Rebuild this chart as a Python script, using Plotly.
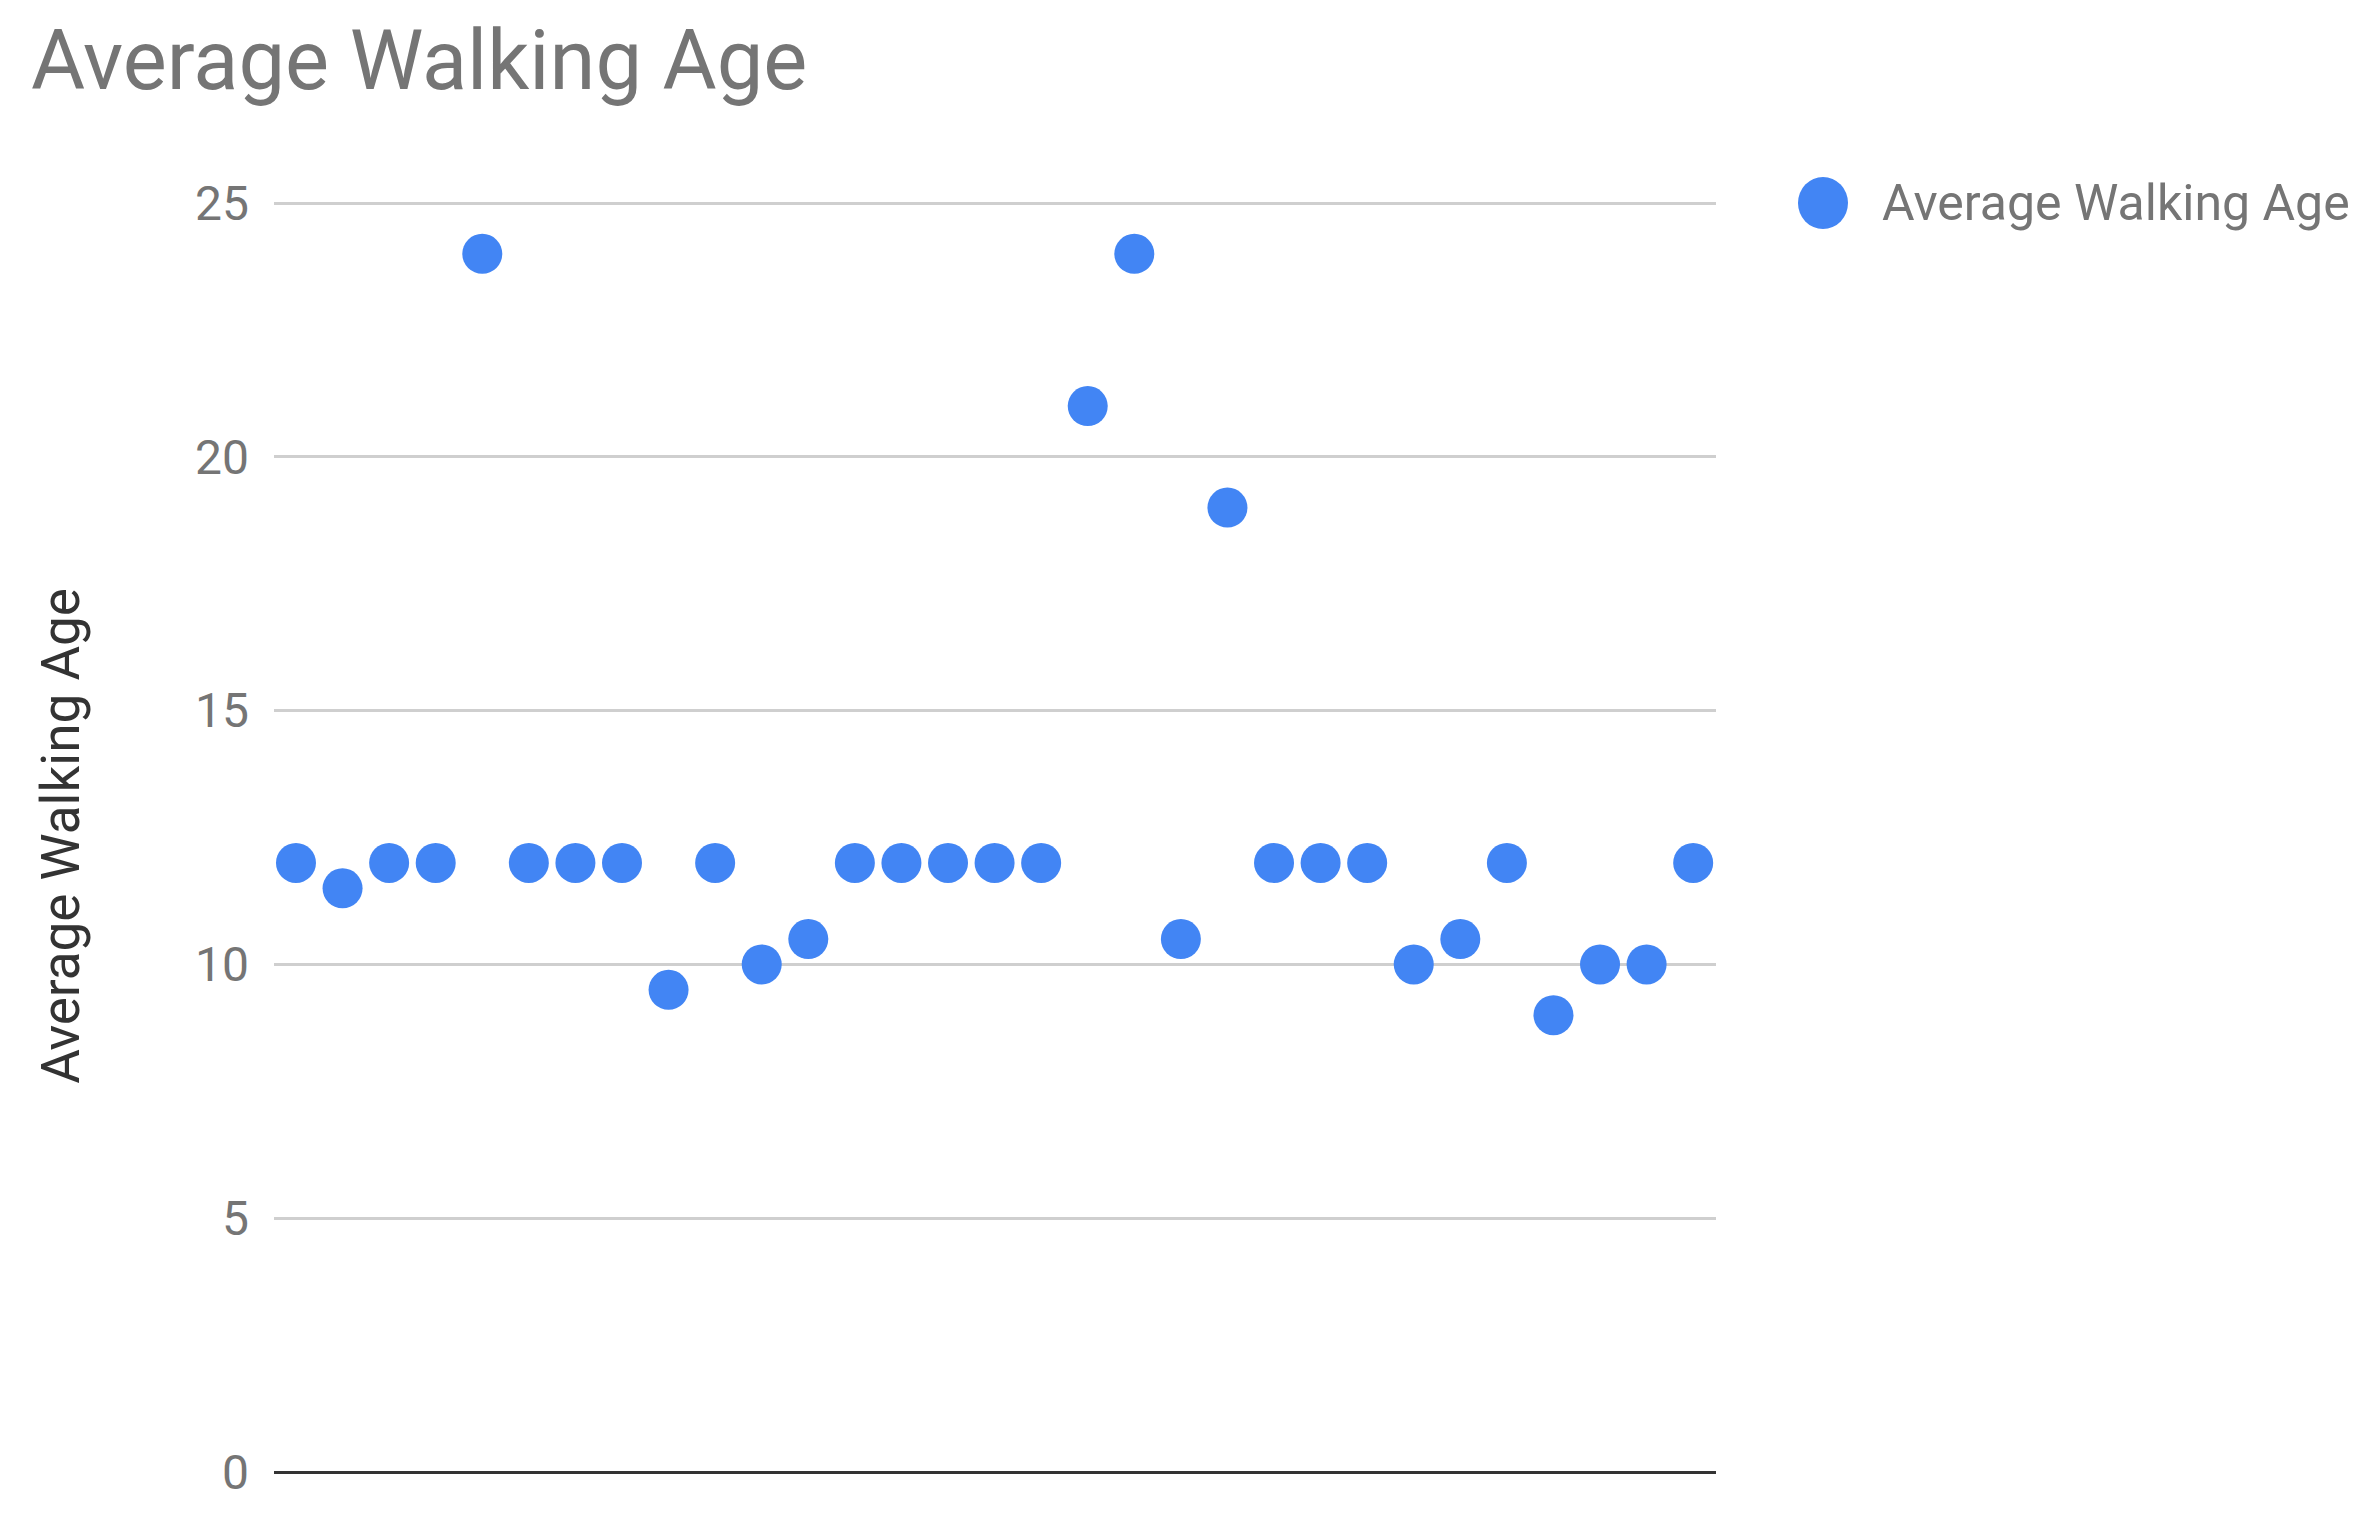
import plotly.graph_objects as go

# Data
child_index = list(range(1, 32))
walking_age = [12, 11.5, 12, 12, 24, 12, 12, 12, 9.5, 12, 10, 10.5, 12, 12, 12,
               12, 12, 21, 24, 10.5, 19, 12, 12, 12, 10, 10.5, 12, 9, 10, 10, 12]
y_ticks = [0, 5, 10, 15, 20, 25]
series_name = "Average Walking Age"
chart_title = "Average Walking Age"

W, H = 2360, 1524
L, R, T, B = 274, 644, 200, 52
pw = W - L - R
ph = H - T - B

BLUE = "#4285F4"
FONT = "Roboto"

fig = go.Figure()
fig.add_trace(go.Scatter(
    x=child_index, y=walking_age, mode="markers", name=series_name,
    marker=dict(color=BLUE, size=40, line=dict(width=0)),
    showlegend=False,
))

# custom legend (large swatch as in reference)
lx = (1823 - L) / pw
ly = (H - B - 203) / ph
fig.add_shape(type="circle", xref="paper", yref="paper",
              xsizemode="pixel", ysizemode="pixel",
              xanchor=lx, yanchor=ly, x0=-25, x1=25, y0=-26, y1=26,
              fillcolor=BLUE, line=dict(width=0))
fig.add_annotation(text=series_name, xref="paper", yref="paper",
                   x=(1880 - L) / pw, y=ly, xanchor="left", yanchor="middle",
                   showarrow=False, font=dict(family=FONT, size=50, color="#757575"))

fig.update_layout(
    width=W, height=H,
    margin=dict(l=L, r=R, t=T, b=B, autoexpand=False),
    paper_bgcolor="white", plot_bgcolor="white",
    title=dict(text=chart_title, x=31 / W, xanchor="left", xref="container",
               y=1 - 60 / H, yanchor="middle", yref="container",
               font=dict(family=FONT, size=83, color="#757575")),
    xaxis=dict(range=[0.528, 31.49], showgrid=False, zeroline=False,
               showticklabels=False, ticks="", showline=False, fixedrange=True),
    yaxis=dict(range=[0, 25.06], tickvals=y_ticks, showgrid=True,
               gridcolor="#cfcfcf", gridwidth=3,
               zeroline=True, zerolinecolor="#333333", zerolinewidth=3,
               showline=False, ticks="", ticklabelstandoff=24,
               tickfont=dict(family=FONT, size=48, color="#757575"),
               title=dict(text=series_name, standoff=98,
                          font=dict(family=FONT, size=53, color="#333333"))),
)

fig.write_html("out.html")
